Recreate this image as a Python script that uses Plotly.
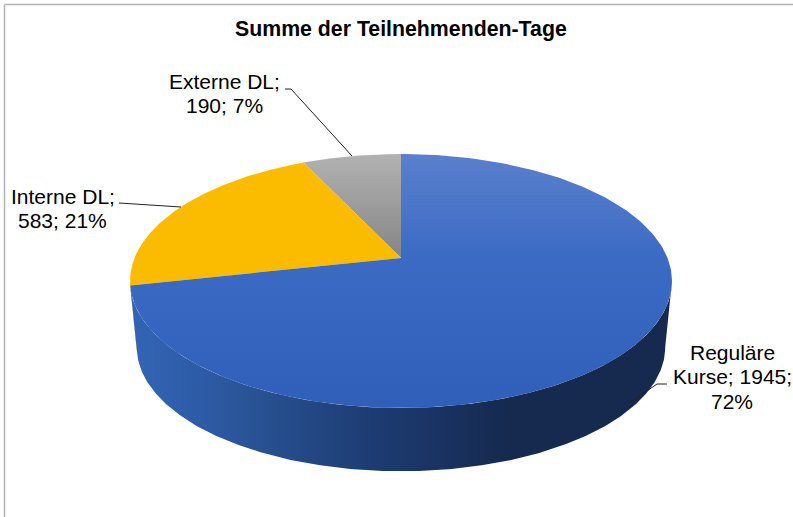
import numpy as np
import plotly.graph_objects as go

categories = ["Reguläre Kurse", "Interne DL", "Externe DL"]
values = [1945, 583, 190]
percents = ["72%", "21%", "7%"]
title_text = "Summe der Teilnehmenden-Tage"

W, H = 793, 517
CX, CY = 401.0, 258.0   # wedge apex on the top face
A, B, K = 266.5, 122.8, 0.181  # perspective ellipse
SCALE, DROP = 0.975, 67.0      # bottom rim


def proj(theta, s=1.0, dy=0.0):
    u, v = np.sin(theta), np.cos(theta)
    w = 1 + K * v
    return CX + s * A * u / w, CY + dy - s * B * v / w


total = sum(values)
edges = np.concatenate([[0], np.cumsum(values) / total]) * 2 * np.pi
EXT = np.arcsin(K)  # silhouette extreme: v = -K
RIGHT = np.pi / 2 + EXT
LEFT = 3 * np.pi / 2 - EXT


def wedge(a, b):
    t = np.linspace(a, b, 240)
    x, y = proj(t)
    return np.r_[CX, x, CX], np.r_[CY, y, CY]


def rim(a, b):
    t = np.linspace(a, b, 240)
    x1, y1 = proj(t)
    x2, y2 = proj(t[::-1], SCALE, DROP)
    return np.r_[x1, x2, x1[0]], np.r_[y1, y2, y1[0]]


fig = go.Figure()


def add(x, y, **fill):
    fig.add_trace(go.Scatter(x=x, y=y, mode="lines", fill="toself",
                             line=dict(width=0), hoverinfo="skip", **fill))


# side walls
x, y = rim(edges[1], LEFT)
add(x, y, fillcolor="#c79a10")
x, y = rim(RIGHT, edges[1])
add(x, y, fillgradient=dict(
    type="horizontal", start=137, stop=665,
    colorscale=[[0, "#3364b4"], [0.12, "#2d5ba6"], [0.25, "#27508f"], [0.4, "#1f4079"],
                [0.55, "#1a3465"], [0.7, "#162a4f"], [1, "#162a4f"]]))

# top face
x, y = wedge(edges[2], edges[3])
add(x, y, fillgradient=dict(type="vertical", start=154, stop=258,
                            colorscale=[[0, "#b2b2b2"], [1, "#858585"]]))
x, y = wedge(edges[1], edges[2])
add(x, y, fillcolor="#fbbc00")
x, y = wedge(edges[0], edges[1])
add(x, y, fillgradient=dict(type="vertical", start=154, stop=408,
                            colorscale=[[0, "#5a80cd"], [0.4, "#3c6bc4"], [1, "#2f5fb9"]]))

# leader lines
leaders = [
    ([285, 291, 352], [89, 89, 156]),
    ([119, 181], [203, 207]),
    ([667, 657, 628], [384, 384, 404]),
]
for lx, ly in leaders:
    fig.add_trace(go.Scatter(x=lx, y=ly, mode="lines", hoverinfo="skip",
                             line=dict(color="#222222", width=1)))

label_lines = [
    (["Reguläre", "Kurse; %d;" % values[0], percents[0]], 732, 352),
    (["%s;" % categories[1], "%d; %s" % (values[1], percents[1])], 62.5, 196),
    (["%s;" % categories[2], "%d; %s" % (values[2], percents[2])], 224, 81),
]
LINE_STEP = 24.5
annotations = []
for lines, lx, ly in label_lines:
    for i, t in enumerate(lines):
        annotations.append(dict(x=lx, y=ly + i * LINE_STEP, text=t, showarrow=False,
                                xanchor="center", yanchor="middle",
                                font=dict(family="Liberation Sans, Arial", size=21, color="#000000")))
annotations.append(dict(x=401, y=29, text="<b>%s</b>" % title_text, showarrow=False,
                        xanchor="center", yanchor="middle",
                        font=dict(family="Liberation Sans, Arial", size=21.3, color="#000000")))

frame = dict(color="#b3b3b3", width=1.5)
fig.update_layout(
    width=W, height=H, margin=dict(l=0, r=0, t=0, b=0),
    paper_bgcolor="white", plot_bgcolor="white", showlegend=False,
    xaxis=dict(range=[0, W], visible=False, fixedrange=True),
    yaxis=dict(range=[H, 0], visible=False, fixedrange=True),
    annotations=annotations,
    shapes=[
        dict(type="line", x0=4.5, x1=W, y0=4.5, y1=4.5, line=frame),
        dict(type="line", x0=4.5, x1=4.5, y0=4.5, y1=H, line=frame),
    ],
)
fig.write_html("out.html", config=dict(displayModeBar=False),
               post_script="document.body.style.margin='0';document.documentElement.style.overflow='hidden';")
